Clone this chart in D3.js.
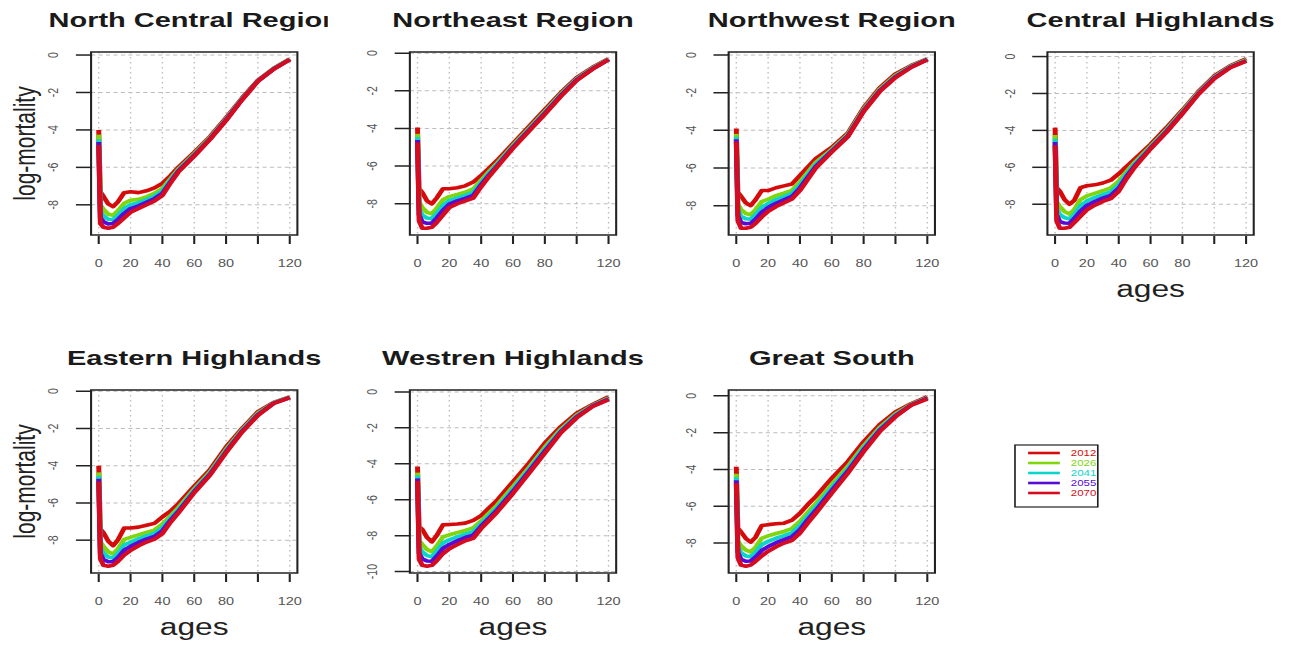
<!DOCTYPE html>
<html>
<head>
<meta charset="utf-8">
<script src="https://cdn.jsdelivr.net/npm/d3@7"></script>
<style>
  html, body { margin: 0; padding: 0; background: #fff; }
  svg { display: block; }
  text { font-family: "Liberation Sans", Arial, sans-serif; }
</style>
</head>
<body>
<div id="chart"></div>
<script>
const AGES = [0, 1, 3, 6, 9, 12, 16, 20, 25, 30, 35, 40, 45, 50, 60, 70, 80, 90, 100, 110, 120];
const YEARS = [2012, 2026, 2041, 2055, 2070];
const FIRST_YEAR = 2012, LAST_YEAR = 2070;
const REGIONS = ["North Central Region", "Northeast Region", "Northwest Region", "Central Highlands",
                 "Eastern Highlands", "Westren Highlands", "Great South"];
const X_TICKS = [0, 20, 40, 60, 80, 100, 120];
const X_TICK_LABELS = ["0", "20", "40", "60", "80", "", "120"];
const Y_TICKS = [0, -2, -4, -6, -8, -10];

// one row per year in YEARS
const northCentral = [
  [-4.0, -7.3, -7.55, -7.95, -8.1, -7.85, -7.35, -7.3, -7.35, -7.25, -7.1, -6.85, -6.45, -6.0, -5.2, -4.35, -3.35, -2.3, -1.35, -0.7, -0.2],
  [-4.25, -8.0, -8.24, -8.5, -8.56, -8.33, -7.92, -7.76, -7.71, -7.57, -7.39, -7.12, -6.62, -6.1, -5.28, -4.41, -3.41, -2.34, -1.37, -0.72, -0.22],
  [-4.5, -8.37, -8.59, -8.77, -8.79, -8.57, -8.2, -7.99, -7.89, -7.72, -7.54, -7.26, -6.7, -6.16, -5.33, -4.44, -3.44, -2.36, -1.38, -0.73, -0.23],
  [-4.65, -8.69, -8.9, -9.02, -9.0, -8.79, -8.46, -8.2, -8.05, -7.87, -7.67, -7.38, -6.78, -6.2, -5.36, -4.47, -3.47, -2.38, -1.39, -0.74, -0.24],
  [-4.8, -9.0, -9.2, -9.25, -9.2, -9.0, -8.7, -8.4, -8.2, -8.0, -7.8, -7.5, -6.85, -6.25, -5.4, -4.5, -3.5, -2.4, -1.4, -0.75, -0.25]
];
const northeast = [
  [-3.95, -7.2, -7.4, -7.85, -8.0, -7.7, -7.2, -7.2, -7.15, -7.05, -6.85, -6.5, -6.1, -5.7, -4.8, -3.9, -3.0, -2.1, -1.3, -0.75, -0.3],
  [-4.29, -7.91, -8.2, -8.46, -8.53, -8.25, -7.79, -7.62, -7.51, -7.39, -7.21, -6.75, -6.29, -5.85, -4.9, -4.0, -3.1, -2.18, -1.36, -0.79, -0.32],
  [-4.45, -8.27, -8.6, -8.76, -8.79, -8.52, -8.08, -7.83, -7.69, -7.55, -7.39, -6.88, -6.38, -5.92, -4.96, -4.06, -3.16, -2.23, -1.39, -0.81, -0.33],
  [-4.61, -8.59, -8.96, -9.04, -9.03, -8.77, -8.35, -8.02, -7.85, -7.71, -7.55, -6.99, -6.47, -5.99, -5.0, -4.1, -3.2, -2.26, -1.42, -0.83, -0.34],
  [-4.75, -8.9, -9.3, -9.3, -9.25, -9.0, -8.6, -8.2, -8.0, -7.85, -7.7, -7.1, -6.55, -6.05, -5.05, -4.15, -3.25, -2.3, -1.45, -0.85, -0.35]
];
const northwest = [
  [-3.9, -7.3, -7.5, -7.85, -8.0, -7.7, -7.2, -7.2, -7.05, -6.95, -6.85, -6.4, -5.95, -5.5, -4.9, -4.15, -2.8, -1.75, -1.0, -0.55, -0.2],
  [-4.19, -7.93, -8.21, -8.42, -8.48, -8.23, -7.79, -7.66, -7.47, -7.33, -7.19, -6.74, -6.22, -5.71, -5.01, -4.23, -2.88, -1.83, -1.08, -0.59, -0.22],
  [-4.34, -8.25, -8.57, -8.7, -8.72, -8.49, -8.08, -7.89, -7.68, -7.52, -7.35, -6.9, -6.36, -5.82, -5.06, -4.28, -2.93, -1.88, -1.13, -0.61, -0.23],
  [-4.47, -8.53, -8.89, -8.96, -8.94, -8.73, -8.35, -8.1, -7.87, -7.69, -7.51, -7.06, -6.48, -5.91, -5.11, -4.31, -2.96, -1.91, -1.16, -0.63, -0.24],
  [-4.6, -8.8, -9.2, -9.2, -9.15, -8.95, -8.6, -8.3, -8.05, -7.85, -7.65, -7.2, -6.6, -6.0, -5.15, -4.35, -3.0, -1.95, -1.2, -0.65, -0.25]
];
const centralHighlands = [
  [-3.85, -7.1, -7.3, -7.75, -8.0, -7.8, -7.1, -7.0, -6.95, -6.85, -6.7, -6.35, -5.95, -5.55, -4.75, -3.85, -2.9, -1.9, -1.05, -0.5, -0.12],
  [-4.25, -7.86, -8.14, -8.4, -8.53, -8.3, -7.75, -7.55, -7.41, -7.27, -7.12, -6.75, -6.22, -5.74, -4.86, -3.96, -2.98, -1.96, -1.11, -0.54, -0.17],
  [-4.45, -8.23, -8.56, -8.73, -8.79, -8.56, -8.08, -7.82, -7.64, -7.48, -7.33, -6.95, -6.36, -5.83, -4.91, -4.01, -3.03, -1.99, -1.14, -0.56, -0.2],
  [-4.63, -8.58, -8.94, -9.02, -9.03, -8.78, -8.37, -8.07, -7.85, -7.67, -7.52, -7.13, -6.48, -5.92, -4.96, -4.06, -3.06, -2.02, -1.17, -0.58, -0.23],
  [-4.8, -8.9, -9.3, -9.3, -9.25, -9.0, -8.65, -8.3, -8.05, -7.85, -7.7, -7.3, -6.6, -6.0, -5.0, -4.1, -3.1, -2.05, -1.2, -0.6, -0.25]
];
const easternHighlands = [
  [-4.0, -7.4, -7.6, -8.05, -8.3, -8.0, -7.35, -7.35, -7.3, -7.2, -7.1, -6.75, -6.45, -6.05, -5.1, -4.2, -3.0, -2.0, -1.1, -0.6, -0.3],
  [-4.36, -8.07, -8.34, -8.62, -8.74, -8.48, -7.96, -7.85, -7.72, -7.58, -7.46, -7.13, -6.7, -6.26, -5.25, -4.33, -3.13, -2.08, -1.18, -0.62, -0.32],
  [-4.54, -8.41, -8.7, -8.9, -8.96, -8.72, -8.26, -8.11, -7.93, -7.77, -7.64, -7.32, -6.83, -6.37, -5.32, -4.39, -3.19, -2.13, -1.23, -0.63, -0.33],
  [-4.7, -8.71, -9.04, -9.16, -9.16, -8.94, -8.54, -8.33, -8.12, -7.94, -7.8, -7.49, -6.94, -6.46, -5.39, -4.45, -3.25, -2.16, -1.26, -0.64, -0.34],
  [-4.85, -9.0, -9.35, -9.4, -9.35, -9.15, -8.8, -8.55, -8.3, -8.1, -7.95, -7.65, -7.05, -6.55, -5.45, -4.5, -3.3, -2.2, -1.3, -0.65, -0.35]
];
const westrenHighlands = [
  [-4.15, -7.5, -7.65, -8.1, -8.35, -8.0, -7.4, -7.38, -7.35, -7.3, -7.15, -6.88, -6.45, -6.03, -5.0, -3.97, -2.85, -1.93, -1.18, -0.7, -0.27],
  [-4.49, -8.26, -8.49, -8.77, -8.9, -8.59, -8.07, -7.95, -7.83, -7.71, -7.57, -7.18, -6.74, -6.31, -5.27, -4.21, -3.08, -2.08, -1.29, -0.75, -0.34],
  [-4.65, -8.63, -8.91, -9.11, -9.17, -8.88, -8.41, -8.23, -8.07, -7.92, -7.78, -7.33, -6.89, -6.45, -5.41, -4.32, -3.2, -2.15, -1.34, -0.77, -0.37],
  [-4.81, -8.98, -9.29, -9.41, -9.42, -9.15, -8.71, -8.49, -8.29, -8.1, -7.97, -7.47, -7.02, -6.57, -5.53, -4.43, -3.3, -2.22, -1.39, -0.79, -0.4],
  [-4.95, -9.3, -9.65, -9.7, -9.65, -9.4, -9.0, -8.73, -8.5, -8.28, -8.15, -7.6, -7.15, -6.69, -5.65, -4.53, -3.4, -2.28, -1.44, -0.81, -0.43]
];
const greatSouth = [
  [-3.85, -7.2, -7.4, -7.75, -7.95, -7.7, -7.05, -7.0, -6.95, -6.92, -6.75, -6.38, -5.9, -5.47, -4.48, -3.58, -2.49, -1.57, -0.87, -0.42, -0.05],
  [-4.23, -7.87, -8.16, -8.38, -8.48, -8.25, -7.74, -7.61, -7.48, -7.37, -7.21, -6.83, -6.32, -5.85, -4.82, -3.84, -2.72, -1.73, -0.98, -0.45, -0.1],
  [-4.42, -8.21, -8.53, -8.7, -8.74, -8.52, -8.09, -7.91, -7.74, -7.6, -7.44, -7.06, -6.53, -6.04, -4.99, -3.98, -2.83, -1.81, -1.04, -0.47, -0.12],
  [-4.59, -8.51, -8.88, -8.99, -8.98, -8.77, -8.4, -8.19, -7.98, -7.81, -7.65, -7.27, -6.72, -6.22, -5.14, -4.1, -2.93, -1.88, -1.09, -0.49, -0.14],
  [-4.75, -8.8, -9.2, -9.26, -9.2, -9.0, -8.7, -8.45, -8.2, -8.0, -7.85, -7.46, -6.9, -6.38, -5.29, -4.21, -3.03, -1.95, -1.14, -0.5, -0.16]
];

const regionData = [northCentral, northeast, northwest, centralHighlands,
                    easternHighlands, westrenHighlands, greatSouth];

// the picture is a horizontally stretched R plot, so draw in a narrower space and stretch it
const W = 1291, H = 645, SX = 1.38;
const VW = W / SX;

// R's rainbow() colour for a given year
const colorOf = yr => d3.hsl(360 * (yr - FIRST_YEAR) / (LAST_YEAR - FIRST_YEAR + 1), 0.9, 0.44).toString();

const svg = d3.select('#chart').append('svg')
    .attr('width', W)
    .attr('height', H)
    .attr('viewBox', `0 0 ${VW} ${H}`)
    .attr('preserveAspectRatio', 'none');
svg.append('rect').attr('width', VW).attr('height', H).attr('fill', '#fff');
const defs = svg.append('defs');

const boxW = 149.5, boxH = 183;
const ageExt = d3.extent(AGES);
const agePad = (ageExt[1] - ageExt[0]) * 0.04;

regionData.forEach((series, i) => {
    const col = i % 4, row = Math.floor(i / 4);
    const left = 66 + 231 * col;
    const top = row === 0 ? 52 : 390;

    const lo = d3.min(series.flat()), hi = d3.max(series.flat());
    const pad = (hi - lo) * 0.04;

    const x = d3.scaleLinear().domain([ageExt[0] - agePad, ageExt[1] + agePad]).range([left, left + boxW]);
    const y = d3.scaleLinear().domain([lo - pad, hi + pad]).range([top + boxH, top]);
    const yTicks = Y_TICKS.filter(t => t >= y.domain()[0] && t <= y.domain()[1]);

    // figure region clip (cuts the long first title like the original)
    defs.append('clipPath').attr('id', 'fig' + i)
        .append('rect').attr('x', left - 66).attr('y', top - 52).attr('width', 237.5).attr('height', 340);
    defs.append('clipPath').attr('id', 'plot' + i)
        .append('rect').attr('x', left).attr('y', top).attr('width', boxW).attr('height', boxH);

    const g = svg.append('g').attr('clip-path', `url(#fig${i})`);

    // grid
    g.append('g').selectAll('line')
        .data(X_TICKS)
        .enter().append('line')
        .attr('x1', d => x(d)).attr('x2', d => x(d))
        .attr('y1', top).attr('y2', top + boxH)
        .style('stroke', '#bdbdbd')
        .style('stroke-width', 1)
        .style('stroke-dasharray', '1.6,3.4');
    g.append('g').selectAll('line')
        .data(yTicks)
        .enter().append('line')
        .attr('x1', left).attr('x2', left + boxW)
        .attr('y1', d => y(d)).attr('y2', d => y(d))
        .style('stroke', '#bdbdbd')
        .style('stroke-width', 1)
        .style('stroke-dasharray', '3,2.4');

    // curves, first year drawn first
    const line = d3.line()
        .x((d, j) => x(AGES[j]))
        .y(d => y(d));
    g.append('g').attr('clip-path', `url(#plot${i})`)
        .selectAll('path')
        .data(series)
        .enter().append('path')
        .attr('d', line)
        .style('fill', 'none')
        .style('stroke', (d, k) => colorOf(YEARS[k]))
        .style('stroke-width', 3.6)
        .style('stroke-linejoin', 'round');

    // box
    g.append('rect')
        .attr('x', left).attr('y', top)
        .attr('width', boxW).attr('height', boxH)
        .style('fill', 'none')
        .style('stroke', '#222')
        .style('stroke-width', 1.5);

    // x axis
    g.append('g').selectAll('line')
        .data(X_TICKS)
        .enter().append('line')
        .attr('x1', d => x(d)).attr('x2', d => x(d))
        .attr('y1', top + boxH + 1).attr('y2', top + boxH + 9)
        .style('stroke', '#222')
        .style('stroke-width', 1.5);
    g.append('g').selectAll('text')
        .data(X_TICKS)
        .enter().append('text')
        .attr('x', d => x(d))
        .attr('y', top + boxH + 32)
        .attr('text-anchor', 'middle')
        .style('font-size', '10.5px')
        .style('fill', '#555')
        .text((d, k) => X_TICK_LABELS[k]);

    // y axis
    g.append('g').selectAll('line')
        .data(yTicks)
        .enter().append('line')
        .attr('x1', left - 11).attr('x2', left)
        .attr('y1', d => y(d)).attr('y2', d => y(d))
        .style('stroke', '#222')
        .style('stroke-width', 1.5);
    g.append('g').selectAll('text')
        .data(yTicks)
        .enter().append('text')
        .attr('transform', d => `translate(${left - 27},${y(d)}) rotate(-90)`)
        .attr('text-anchor', 'middle')
        .attr('dominant-baseline', 'central')
        .style('font-size', '10.5px')
        .style('fill', '#555')
        .text(d => d);

    // title
    g.append('text')
        .attr('x', left + boxW / 2)
        .attr('y', top - 25)
        .attr('text-anchor', 'middle')
        .style('font-size', '21px')
        .style('font-weight', 'bold')
        .style('fill', '#1a1a1a')
        .text(REGIONS[i]);

    if (col === 0) {
        g.append('text')
            .attr('transform', `translate(${left - 48},${top + boxH / 2}) rotate(-90)`)
            .attr('text-anchor', 'middle')
            .attr('dominant-baseline', 'central')
            .style('font-size', '21px')
            .style('fill', '#222')
            .text('log-mortality');
    }
    if (row === 1 || i === 3) {
        g.append('text')
            .attr('x', left + boxW / 2)
            .attr('y', top + boxH + 62)
            .attr('text-anchor', 'middle')
            .style('font-size', '23px')
            .style('fill', '#222')
            .text('ages');
    }
});

// legend
const leg = svg.append('g');
leg.append('rect')
    .attr('x', 735.5).attr('y', 445)
    .attr('width', 60).attr('height', 62)
    .style('fill', '#fff')
    .style('stroke', '#222')
    .style('stroke-width', 1.2);
const legY = d3.scalePoint().domain(YEARS).range([453, 493]);
leg.selectAll('line')
    .data(YEARS)
    .enter().append('line')
    .attr('x1', 745).attr('x2', 768)
    .attr('y1', d => legY(d)).attr('y2', d => legY(d))
    .style('stroke', d => colorOf(d))
    .style('stroke-width', 2.6);
leg.selectAll('text')
    .data(YEARS)
    .enter().append('text')
    .attr('x', 776)
    .attr('y', d => legY(d))
    .attr('dominant-baseline', 'central')
    .style('font-size', '8.3px')
    .style('fill', d => colorOf(d))
    .text(d => d);
</script>
</body>
</html>
